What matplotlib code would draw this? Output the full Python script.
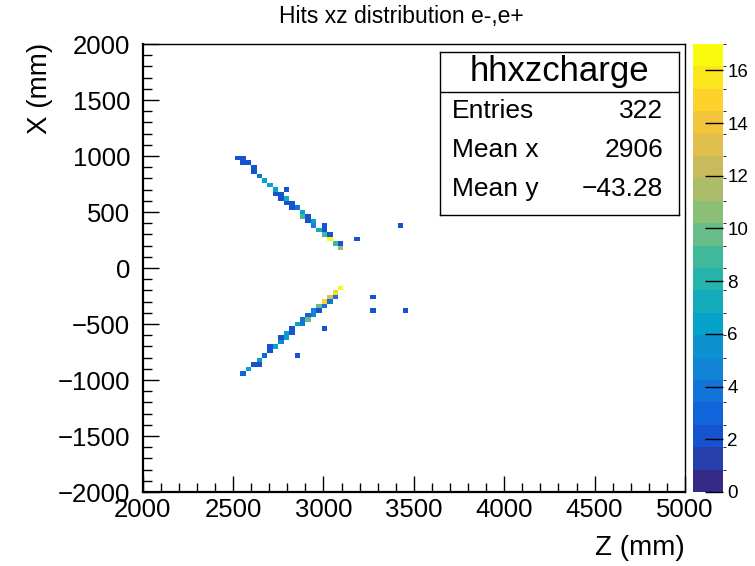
import numpy as np
import matplotlib
matplotlib.use('Agg')
import matplotlib.pyplot as plt
from matplotlib.colors import LinearSegmentedColormap, ListedColormap, BoundaryNorm

plt.rcParams['font.family'] = ['Liberation Sans', 'DejaVu Sans']

# hit positions (bin centres, mm) and charge per bin
z_hits = [2516, 2544, 2548, 2576, 2604, 2607, 2637, 2666, 2696, 2727,
          2786, 2733, 2760, 2758, 2786, 2788, 2815, 2821, 2849, 2878,
          2876, 2908, 2908, 2937, 2935, 2968, 2998, 2998, 2998, 3027,
          3027, 3059, 3088, 3088, 3178, 3422,
          3090, 3059, 3031, 3059, 3000, 3029, 2971, 3000, 2945, 2971,
          2915, 2945, 2880, 2908, 2853, 2882, 3000, 2819, 2790, 2819,
          2760, 2760, 2790, 2702, 2729, 2702, 2672, 2849, 2643, 2611,
          2643, 2580, 2551, 3267, 3267, 3449]
x_hits = [991, 991, 953, 944, 908, 872, 837, 792, 753, 709,
          709, 670, 670, 628, 628, 587, 587, 551, 527, 512,
          477, 474, 435, 429, 387, 349, 393, 349, 307, 307,
          265, 224, 224, 185, 268, 393,
          -170, -208, -250, -250, -289, -289, -333, -333, -372, -372,
          -414, -414, -458, -458, -497, -497, -530, -542, -577, -577,
          -616, -655, -616, -693, -693, -735, -774, -774, -818, -857,
          -857, -899, -926, -250, -375, -375]
charge = [2, 2, 2, 2, 2, 2, 4, 6, 6, 6,
          2, 2, 2, 2, 7, 2, 2, 2, 4, 6,
          9, 2, 2, 6, 5, 7, 2, 2, 9, 2,
          17, 9, 2, 11, 2, 2,
          17, 15, 13, 4, 15, 4, 10, 4, 5, 2,
          3, 5, 4, 10, 6, 4, 2, 2, 6, 2,
          2, 5, 6, 2, 6, 2, 3, 2, 6, 2,
          2, 6, 3, 2, 2, 2]

cbar_ticks = [0, 2, 4, 6, 8, 10, 12, 14, 16]

# ROOT kBird palette, 20 contour levels
bird = LinearSegmentedColormap.from_list('bird', [
    (0.2082, 0.1664, 0.5293), (0.0592, 0.3599, 0.8684), (0.0780, 0.5041, 0.8385),
    (0.0232, 0.6419, 0.7914), (0.1802, 0.7178, 0.6425), (0.5301, 0.7492, 0.4662),
    (0.8186, 0.7328, 0.3499), (0.9956, 0.7862, 0.1968), (0.9764, 0.9832, 0.0539)])
cmap = ListedColormap(bird(np.linspace(0, 1, 20)))
norm = BoundaryNorm(np.linspace(0, 17, 21), 20)

zedges = np.linspace(2000, 5000, 101)
xedges = np.linspace(-2000, 2000, 101)
H, _, _ = np.histogram2d(z_hits, x_hits, bins=[zedges, xedges], weights=charge)
H = np.ma.masked_where(H <= 0, H)

W, Hpx = 755, 566
fig = plt.figure(figsize=(W / 100, Hpx / 100), dpi=100)
ax = fig.add_axes([142.7 / W, 1 - 492 / Hpx, (685 - 142.7) / W, (492 - 44) / Hpx])
mesh = ax.pcolormesh(zedges, xedges, H.T, cmap=cmap, norm=norm)

ax.set_xlim(2000, 5000)
ax.set_ylim(-2000, 2000)
ax.set_xticks(np.arange(2000, 5001, 500))
ax.set_yticks(np.arange(-2000, 2001, 500))
ax.set_xticks(np.arange(2000, 5001, 100), minor=True)
ax.set_yticks(np.arange(-2000, 2001, 100), minor=True)
ax.tick_params(which='both', direction='in', top=False, right=False, labelsize=18.5)
ax.tick_params(which='major', length=11.5, width=1)
ax.tick_params(which='minor', length=6.5, width=1)
ax.tick_params(axis='y', pad=9)
ax.tick_params(axis='x', pad=4)
for s in ['left', 'bottom']:
    ax.spines[s].set_linewidth(1.6)
for s in ['top', 'right']:
    ax.spines[s].set_linewidth(1.0)

fig.text(685 / W, 1 - 548 / Hpx, 'Z (mm)', ha='right', va='center', fontsize=20)
fig.text(40 / W, 1 - 43 / Hpx, 'X (mm)', ha='center', va='top', rotation=90, fontsize=20)
fig.text(401 / W, 1 - 17 / Hpx, 'Hits xz distribution e-,e+', ha='center', va='center', fontsize=16.5)

# colour scale
cax = fig.add_axes([693 / W, 1 - 492 / Hpx, 30 / W, (492 - 44) / Hpx])
cb = fig.colorbar(mesh, cax=cax, ticks=cbar_ticks)
cb.outline.set_visible(False)
cax.tick_params(direction='in', length=13, width=1, labelsize=13.5, pad=3)

# stats box
bx0, bx1, by0, by1 = 440, 679, 52, 215
box = fig.add_axes([bx0 / W, 1 - by1 / Hpx, (bx1 - bx0) / W, (by1 - by0) / Hpx])
box.set_xticks([])
box.set_yticks([])
for s in box.spines.values():
    s.set_linewidth(1.0)
hy = (92 - by0) / (by1 - by0)
box.axhline(1 - hy, color='black', lw=1.0)
box.text(0.5, 1 - (71 - by0) / (by1 - by0), 'hhxzcharge', ha='center', va='center', fontsize=25)
rows = [('Entries', '322', 111), ('Mean x', '2906', 150), ('Mean y', '\u221243.28', 189)]
for name, val, yy in rows:
    yf = 1 - (yy - by0) / (by1 - by0)
    box.text((452 - bx0) / (bx1 - bx0), yf, name, ha='left', va='center', fontsize=19)
    box.text((663 - bx0) / (bx1 - bx0), yf, val, ha='right', va='center', fontsize=19)

fig.savefig('out.png', dpi=100)
